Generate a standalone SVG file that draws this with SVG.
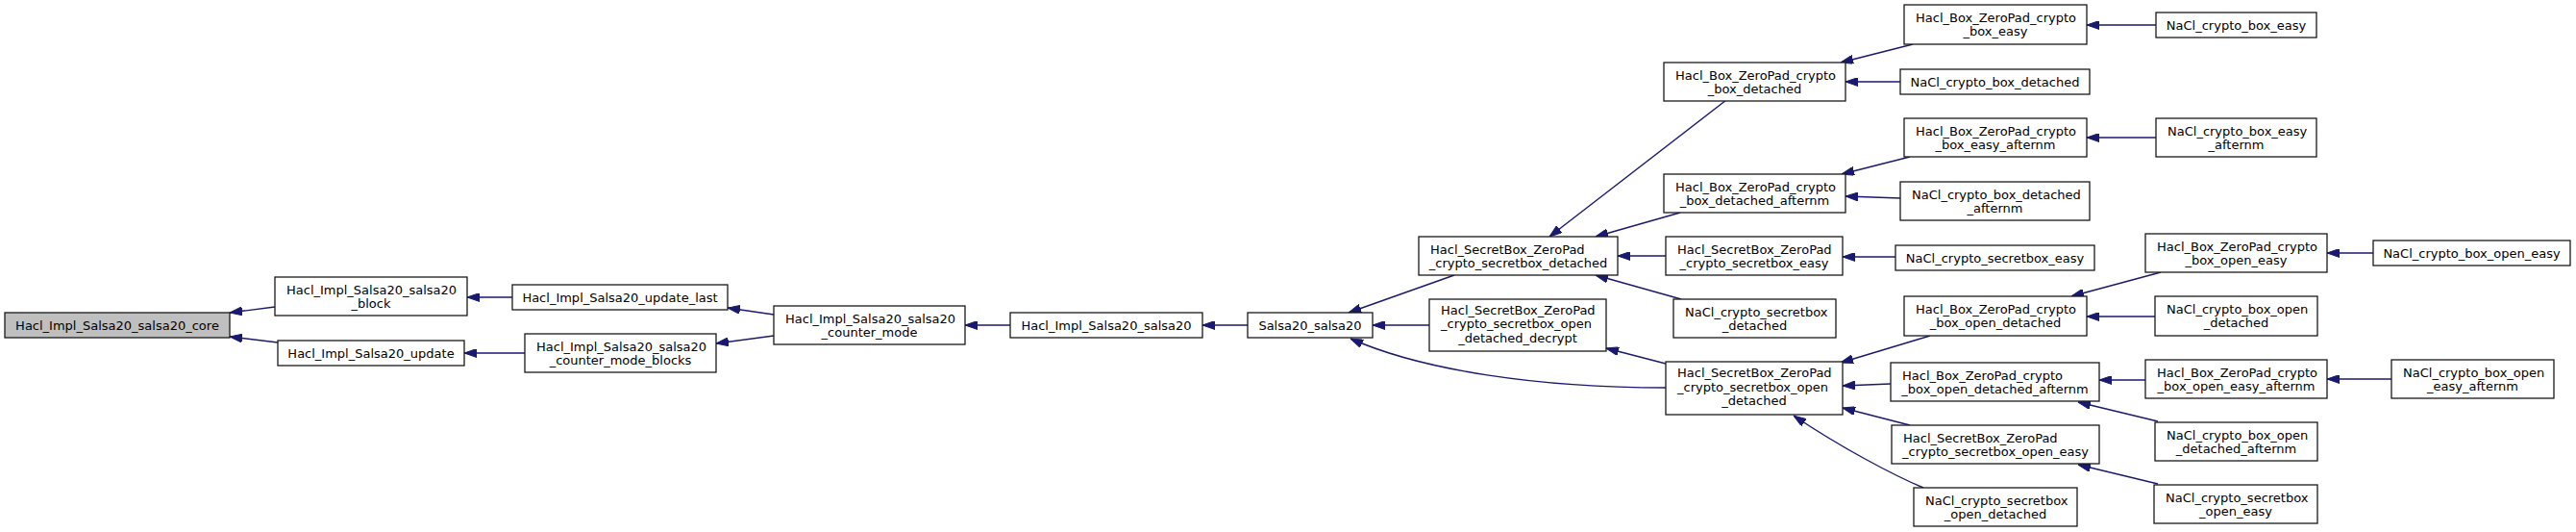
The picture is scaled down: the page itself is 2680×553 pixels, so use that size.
<svg xmlns="http://www.w3.org/2000/svg" width="2680" height="553" viewBox="0 0 2680 553">
<defs>
<marker id="ah" viewBox="0 0 13 9" refX="13" refY="4.5" markerWidth="13" markerHeight="9" markerUnits="userSpaceOnUse" orient="auto">
<path d="M0,0 L13,4.5 L0,9 z" fill="#191970" stroke="#191970" stroke-width="1"/>
</marker>
<style>
.n rect{fill:#fff;stroke:#1a1a1a;stroke-width:1.3}
.n.cur rect{fill:#bfbfbf}
.n text{font-family:"DejaVu Sans",sans-serif;font-size:13px;fill:#000}
.m{text-anchor:middle}
.s{text-anchor:start}
#edges path{fill:none;stroke:#191970;stroke-width:1.4;marker-end:url(#ah)}
</style>
</defs>
<rect width="2680" height="553" fill="#fff"/>
<g id="edges">
<path d="M286,319 L239,325"/>
<path d="M289,356 L239,350"/>
<path d="M533,309 L486,309"/>
<path d="M546,367 L483,367"/>
<path d="M805,327 L757,320"/>
<path d="M805,349 L745,357"/>
<path d="M1051,338 L1004,338"/>
<path d="M1298,338 L1251,338"/>
<path d="M1513,286 L1403,325"/>
<path d="M1487,338 L1428,338"/>
<path d="M1733,403 C1600,403 1480,385 1405,352"/>
<path d="M1796,104 L1612,246"/>
<path d="M1748,221 L1660,246"/>
<path d="M1733,266 L1683,266"/>
<path d="M1749,311 L1660,286"/>
<path d="M1733,378 L1671,362"/>
<path d="M1990,46 L1915,65"/>
<path d="M1977,85 L1920,85"/>
<path d="M1987,163 L1916,181"/>
<path d="M1977,206 L1920,204"/>
<path d="M1972,267 L1917,267"/>
<path d="M2008,349 L1915,377"/>
<path d="M1967,399 L1917,401"/>
<path d="M1987,442 L1917,424"/>
<path d="M2001,507 C1970,494 1915,465 1866,432"/>
<path d="M2243,26 L2171,26"/>
<path d="M2243,143 L2171,143"/>
<path d="M2248,283 L2155,308"/>
<path d="M2469,263 L2421,263"/>
<path d="M2242,329 L2171,329"/>
<path d="M2232,395 L2184,395"/>
<path d="M2488,394 L2421,394"/>
<path d="M2245,438 L2162,418"/>
<path d="M2245,503 L2162,483"/>
</g>
<g id="n_core" class="n cur"><rect x="5" y="325" width="234" height="26"/><text class="m" x="122" y="342.5">Hacl_Impl_Salsa20_salsa20_core</text></g>
<g id="n_block" class="n"><rect x="286" y="288" width="200" height="40"/><text class="s" x="298" y="305.5">Hacl_Impl_Salsa20_salsa20</text><text class="m" x="386" y="319.5">_block</text></g>
<g id="n_update" class="n"><rect x="289" y="354" width="194" height="26"/><text class="m" x="386" y="371.5">Hacl_Impl_Salsa20_update</text></g>
<g id="n_update_last" class="n"><rect x="533" y="296" width="224" height="26"/><text class="m" x="645" y="313.5">Hacl_Impl_Salsa20_update_last</text></g>
<g id="n_cm_blocks" class="n"><rect x="546" y="347" width="199" height="40"/><text class="s" x="558" y="364.5">Hacl_Impl_Salsa20_salsa20</text><text class="m" x="645.5" y="378.5">_counter_mode_blocks</text></g>
<g id="n_cm" class="n"><rect x="805" y="318" width="199" height="40"/><text class="s" x="817" y="335.5">Hacl_Impl_Salsa20_salsa20</text><text class="m" x="904.5" y="349.5">_counter_mode</text></g>
<g id="n_salsa20" class="n"><rect x="1051" y="325" width="200" height="26"/><text class="m" x="1151" y="342.5">Hacl_Impl_Salsa20_salsa20</text></g>
<g id="n_s20" class="n"><rect x="1298" y="325" width="130" height="26"/><text class="m" x="1363" y="342.5">Salsa20_salsa20</text></g>
<g id="n_sb_det" class="n"><rect x="1476" y="246" width="207" height="40"/><text class="s" x="1488" y="263.5">Hacl_SecretBox_ZeroPad</text><text class="m" x="1579.5" y="277.5">_crypto_secretbox_detached</text></g>
<g id="n_sb_open_dec" class="n"><rect x="1487" y="311" width="184" height="54"/><text class="s" x="1499" y="326.5">Hacl_SecretBox_ZeroPad</text><text class="s" x="1499" y="341">_crypto_secretbox_open</text><text class="m" x="1579" y="355.5">_detached_decrypt</text></g>
<g id="n_box_det" class="n"><rect x="1731" y="65" width="189" height="40"/><text class="s" x="1743" y="82.5">Hacl_Box_ZeroPad_crypto</text><text class="m" x="1825.5" y="96.5">_box_detached</text></g>
<g id="n_box_det_aft" class="n"><rect x="1731" y="181" width="189" height="40"/><text class="s" x="1743" y="198.5">Hacl_Box_ZeroPad_crypto</text><text class="m" x="1825.5" y="212.5">_box_detached_afternm</text></g>
<g id="n_sb_easy" class="n"><rect x="1733" y="246" width="184" height="40"/><text class="s" x="1745" y="263.5">Hacl_SecretBox_ZeroPad</text><text class="m" x="1825" y="277.5">_crypto_secretbox_easy</text></g>
<g id="n_nacl_sb_det" class="n"><rect x="1741" y="311" width="169" height="40"/><text class="s" x="1753" y="328.5">NaCl_crypto_secretbox</text><text class="m" x="1825.5" y="342.5">_detached</text></g>
<g id="n_sb_open_det" class="n"><rect x="1733" y="376" width="184" height="55"/><text class="s" x="1745" y="392">Hacl_SecretBox_ZeroPad</text><text class="s" x="1745" y="406.5">_crypto_secretbox_open</text><text class="m" x="1825" y="421">_detached</text></g>
<g id="n_box_easy" class="n"><rect x="1981" y="5" width="190" height="41"/><text class="s" x="1993" y="22.5">Hacl_Box_ZeroPad_crypto</text><text class="m" x="2076" y="36.5">_box_easy</text></g>
<g id="n_nacl_box_det" class="n"><rect x="1977" y="72" width="197" height="26"/><text class="m" x="2075.5" y="89.5">NaCl_crypto_box_detached</text></g>
<g id="n_box_easy_aft" class="n"><rect x="1981" y="123" width="190" height="40"/><text class="s" x="1993" y="140.5">Hacl_Box_ZeroPad_crypto</text><text class="m" x="2076" y="154.5">_box_easy_afternm</text></g>
<g id="n_nacl_box_det_aft" class="n"><rect x="1977" y="189" width="197" height="40"/><text class="s" x="1989" y="206.5">NaCl_crypto_box_detached</text><text class="m" x="2075.5" y="220.5">_afternm</text></g>
<g id="n_nacl_sb_easy" class="n"><rect x="1972" y="255" width="207" height="26"/><text class="m" x="2075.5" y="272.5">NaCl_crypto_secretbox_easy</text></g>
<g id="n_box_open_det" class="n"><rect x="1981" y="308" width="190" height="41"/><text class="s" x="1993" y="325.5">Hacl_Box_ZeroPad_crypto</text><text class="m" x="2076" y="339.5">_box_open_detached</text></g>
<g id="n_box_open_det_aft" class="n"><rect x="1967" y="377" width="217" height="40"/><text class="s" x="1979" y="394.5">Hacl_Box_ZeroPad_crypto</text><text class="m" x="2075.5" y="408.5">_box_open_detached_afternm</text></g>
<g id="n_sb_open_easy" class="n"><rect x="1968" y="442" width="216" height="40"/><text class="s" x="1980" y="459.5">Hacl_SecretBox_ZeroPad</text><text class="m" x="2076" y="473.5">_crypto_secretbox_open_easy</text></g>
<g id="n_nacl_sb_open_det" class="n"><rect x="1991" y="507" width="170" height="40"/><text class="s" x="2003" y="524.5">NaCl_crypto_secretbox</text><text class="m" x="2076" y="538.5">_open_detached</text></g>
<g id="n_nacl_box_easy" class="n"><rect x="2243" y="13" width="167" height="26"/><text class="m" x="2326.5" y="30.5">NaCl_crypto_box_easy</text></g>
<g id="n_nacl_box_easy_aft" class="n"><rect x="2243" y="123" width="167" height="40"/><text class="s" x="2255" y="140.5">NaCl_crypto_box_easy</text><text class="m" x="2326.5" y="154.5">_afternm</text></g>
<g id="n_box_open_easy" class="n"><rect x="2232" y="243" width="189" height="40"/><text class="s" x="2244" y="260.5">Hacl_Box_ZeroPad_crypto</text><text class="m" x="2326.5" y="274.5">_box_open_easy</text></g>
<g id="n_nacl_box_open_easy" class="n"><rect x="2469" y="250" width="205" height="26"/><text class="m" x="2571.5" y="267.5">NaCl_crypto_box_open_easy</text></g>
<g id="n_nacl_box_open_det" class="n"><rect x="2242" y="308" width="169" height="41"/><text class="s" x="2254" y="325.5">NaCl_crypto_box_open</text><text class="m" x="2326.5" y="339.5">_detached</text></g>
<g id="n_box_open_easy_aft" class="n"><rect x="2232" y="374" width="189" height="40"/><text class="s" x="2244" y="391.5">Hacl_Box_ZeroPad_crypto</text><text class="m" x="2326.5" y="405.5">_box_open_easy_afternm</text></g>
<g id="n_nacl_box_open_easy_aft" class="n"><rect x="2488" y="374" width="169" height="40"/><text class="s" x="2500" y="391.5">NaCl_crypto_box_open</text><text class="m" x="2572.5" y="405.5">_easy_afternm</text></g>
<g id="n_nacl_box_open_det_aft" class="n"><rect x="2242" y="439" width="169" height="40"/><text class="s" x="2254" y="456.5">NaCl_crypto_box_open</text><text class="m" x="2326.5" y="470.5">_detached_afternm</text></g>
<g id="n_nacl_sb_open_easy" class="n"><rect x="2241" y="504" width="170" height="40"/><text class="s" x="2253" y="521.5">NaCl_crypto_secretbox</text><text class="m" x="2326" y="535.5">_open_easy</text></g>
</svg>
